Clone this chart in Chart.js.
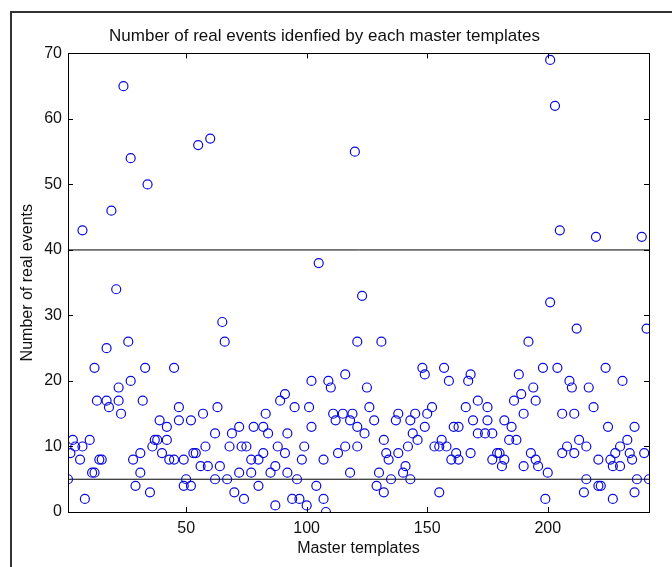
<!DOCTYPE html>
<html>
<head>
<meta charset="utf-8">
<title>Number of real events idenfied by each master templates</title>
<script src="https://cdn.jsdelivr.net/npm/chart.js@4.4.1/dist/chart.umd.min.js"></script>
<style>
  html, body { margin: 0; padding: 0; background: #fff; }
  canvas { display: block; }
</style>
</head>
<body>
<canvas id="chart-events" width="672" height="567"></canvas>
<script>
// Master template index (x) and number of real events it identified (y)
const templateIds = [
    7, 19, 24, 27, 34, 55, 60,
    21, 26, 17, 12, 33, 45, 27, 22, 13, 17, 22, 18, 32, 23, 47, 39, 47, 42, 52, 57,
    3, 2, 4, 7, 10, 6, 14, 15, 11, 12, 1, 8, 28, 31, 31, 29, 35, 37, 38, 36, 42, 40, 43, 45, 49, 50, 49, 52, 53, 54, 56,
    105, 65, 66, 116, 102, 109, 110, 91, 89, 95, 101, 63, 83, 111, 115, 112, 118, 72, 78, 82,
    102, 62, 69, 84, 92, 58, 68, 73, 75, 88, 99, 116, 82, 91, 113, 77, 80, 98, 107, 59,
    64, 87, 72, 77, 85, 92, 118, 62, 67, 96, 80, 104, 70, 74, 87, 94, 97, 100, 107, 108,
    123, 121, 131, 125, 148, 149, 157, 159, 168, 167, 171, 175, 166, 126, 152, 119, 128, 138, 137, 145,
    150, 143, 121, 124, 149, 161, 163, 169, 175, 171, 174, 177, 144, 146, 132, 121, 142, 153, 155, 156,
    158, 133, 138, 162, 168, 134, 160, 163, 177, 141, 140, 130, 135, 143, 129, 132, 155,
    201, 212, 241, 192, 198, 204, 224, 188, 231, 209, 210, 217, 194, 189, 186, 195, 219, 190, 206, 211,
    182, 185, 225, 236, 184, 187, 213, 233, 208, 216, 230, 179, 180, 193, 206, 211, 228, 234, 240, 182,
    195, 221, 226, 235, 181, 190, 196, 227, 230, 200, 216, 237, 242, 221, 222, 215, 236, 199, 227,
    120, 201, 203, 205, 220, 239
];
const eventCounts = [
    43, 46, 65, 54, 50, 56, 57,
    34, 26, 25, 22, 22, 22, 20, 19, 17, 17, 17, 16, 17, 15, 16, 14, 14, 13, 14, 15,
    11, 9, 10, 10, 11, 8, 8, 8, 6, 6, 5, 2, 8, 9, 6, 4, 3, 11, 11, 10, 11, 9, 8, 8, 8, 5, 4, 4, 9, 9, 7,
    38, 29, 26, 21, 20, 20, 19, 18, 17, 16, 16, 16, 15, 15, 15, 14, 14, 13, 13, 13,
    13, 12, 12, 12, 12, 10, 10, 10, 10, 10, 10, 10, 9, 9, 9, 8, 8, 8, 8, 7,
    7, 7, 6, 6, 6, 6, 6, 5, 5, 5, 4, 4, 3, 2, 1, 2, 2, 1, 2, 0,
    33, 26, 26, 19, 22, 21, 22, 20, 21, 20, 17, 16, 16, 16, 16, 15, 14, 15, 14, 15,
    15, 14, 13, 12, 13, 13, 13, 14, 14, 12, 12, 12, 12, 11, 11, 10, 10, 10, 10, 11,
    10, 9, 9, 9, 9, 8, 8, 8, 8, 7, 6, 6, 5, 5, 4, 3, 3,
    32, 28, 28, 26, 22, 22, 22, 21, 20, 20, 19, 19, 19, 18, 17, 17, 16, 15, 15, 15,
    14, 13, 13, 13, 11, 11, 11, 11, 10, 10, 10, 9, 9, 9, 9, 9, 9, 9, 9, 8,
    8, 8, 8, 8, 7, 7, 7, 7, 7, 6, 5, 5, 5, 4, 4, 3, 3, 2, 2,
    55, 69, 62, 43, 42, 42
];

// Threshold lines drawn across the whole template range
const thresholds = [40, 5];
const xRange = [1, 242];
const yRange = [0, 70];
const xTickValues = [50, 100, 150, 200];

const FONT = "'Liberation Sans', Arial, Helvetica, sans-serif";
const TEXT = '#111';

// MATLAB-like box: closed plot frame, inward ticks, figure border
const matlabBox = {
    id: 'matlabBox',
    afterDraw(chart) {
        const { ctx, chartArea: a, scales } = chart;
        const tl = 5;
        ctx.save();
        ctx.strokeStyle = '#000';
        ctx.lineWidth = 1;
        ctx.strokeRect(Math.round(a.left) + 0.5, Math.round(a.top) + 0.5,
            Math.round(a.right - a.left), Math.round(a.bottom - a.top));
        ctx.beginPath();
        for (const v of xTickValues) {
            const px = Math.round(scales.x.getPixelForValue(v)) + 0.5;
            ctx.moveTo(px, a.bottom); ctx.lineTo(px, a.bottom - tl);
            ctx.moveTo(px, a.top); ctx.lineTo(px, a.top + tl);
        }
        for (const t of scales.y.ticks) {
            const py = Math.round(scales.y.getPixelForValue(t.value)) + 0.5;
            ctx.moveTo(a.left, py); ctx.lineTo(a.left + tl, py);
            ctx.moveTo(a.right, py); ctx.lineTo(a.right - tl, py);
        }
        ctx.stroke();

        ctx.strokeStyle = '#333';
        ctx.lineWidth = 2;
        ctx.beginPath();
        ctx.moveTo(11, chart.height);
        ctx.lineTo(11, 12);
        ctx.lineTo(chart.width, 12);
        ctx.stroke();
        ctx.restore();
    }
};

const points = templateIds.map((x, i) => ({ x: x, y: eventCounts[i] }));
const lineSets = thresholds.map(t => ({
    type: 'line',
    data: [{ x: xRange[0], y: t }, { x: xRange[1], y: t }],
    borderColor: '#000',
    borderWidth: 1,
    pointRadius: 0,
    fill: false
}));

new Chart(document.getElementById('chart-events'), {
    type: 'scatter',
    data: {
        datasets: [{
            data: points,
            pointStyle: 'circle',
            pointRadius: 4.5,
            pointBorderWidth: 1.2,
            borderColor: 'rgb(10, 10, 220)',
            backgroundColor: 'rgba(0,0,0,0)'
        }, ...lineSets]
    },
    options: {
        responsive: false,
        animation: false,
        devicePixelRatio: 1,
        events: [],
        layout: { padding: { left: 0, right: 23, top: 0, bottom: 0 } },
        plugins: {
            legend: { display: false },
            tooltip: { enabled: false },
            title: {
                display: true,
                text: 'Number of real events idenfied by each master templates',
                color: TEXT,
                font: { family: FONT, size: 17, weight: 'normal' },
                padding: { top: 26, bottom: 7 }
            }
        },
        scales: {
            x: {
                type: 'linear',
                min: xRange[0],
                max: xRange[1],
                afterBuildTicks: scale => { scale.ticks = xTickValues.map(v => ({ value: v })); },
                afterFit: scale => { scale.height = 55; },
                grid: { display: false, drawTicks: false },
                border: { display: true, color: '#000', width: 1 },
                ticks: {
                    color: TEXT,
                    padding: 7,
                    font: { family: FONT, size: 16 }
                },
                title: {
                    display: true,
                    text: 'Master templates',
                    color: TEXT,
                    font: { family: FONT, size: 16 },
                    padding: { top: 0, bottom: 9 }
                }
            },
            y: {
                min: yRange[0],
                max: yRange[1],
                ticks: {
                    stepSize: 10,
                    color: TEXT,
                    padding: 6,
                    font: { family: FONT, size: 16 }
                },
                afterFit: scale => { scale.width = 68; },
                grid: { display: false, drawTicks: false },
                border: { display: true, color: '#000', width: 1 },
                title: {
                    display: true,
                    text: 'Number of real events',
                    color: TEXT,
                    font: { family: FONT, size: 16 },
                    padding: { top: 18, bottom: 0 }
                }
            }
        }
    },
    plugins: [matlabBox]
});
</script>
</body>
</html>
